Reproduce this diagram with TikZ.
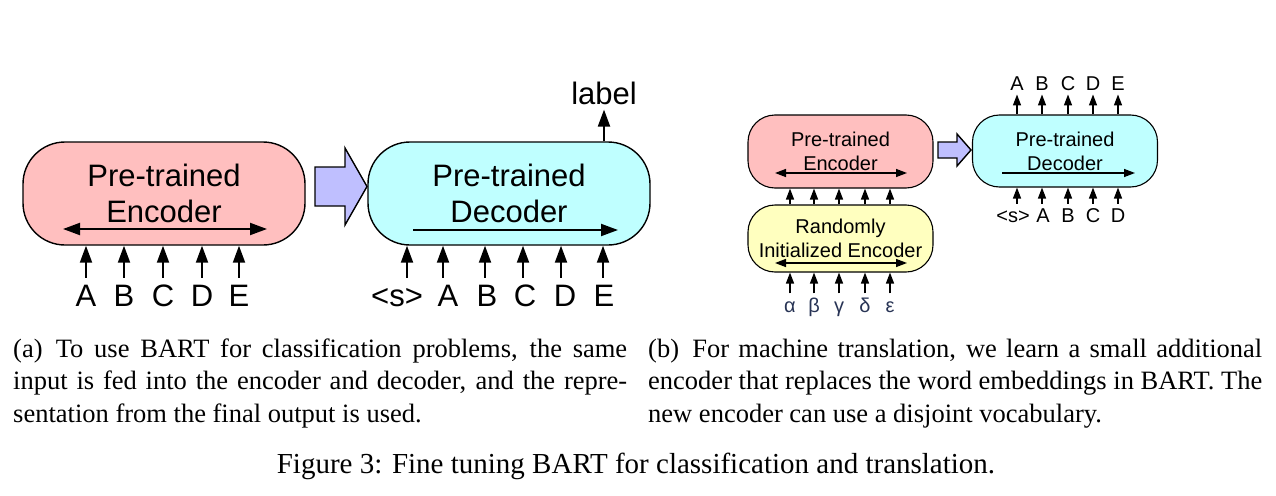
\documentclass[tikz,border=0pt]{standalone}
\usepackage{fontspec}
\setmainfont{Liberation Serif}
\newfontfamily\diagfont{Liberation Sans}
\usetikzlibrary{arrows.meta,calc}

\definecolor{encpink}{RGB}{255,191,191}
\definecolor{deccyan}{RGB}{191,255,255}
\definecolor{rndyellow}{RGB}{255,255,191}
\definecolor{flowlilac}{RGB}{191,191,255}
\definecolor{greekink}{RGB}{40,52,85}

\begin{document}
\begin{tikzpicture}[x=1pt,y=-1pt,
  bigbox/.style={draw=black, line width=1.4pt, rounded corners=42pt,
    minimum width=282pt, minimum height=103pt, align=center, inner sep=0pt,
    font=\diagfont\fontsize{31}{36}\selectfont},
  smallbox/.style={draw=black, line width=1.1pt, rounded corners=27pt,
    minimum width=185pt, align=center, inner sep=0pt,
    font=\diagfont\fontsize{20}{24}\selectfont},
  bigarr/.style={line width=2pt, -{Triangle[length=17pt,width=12pt]}},
  bigdbl/.style={line width=2pt,
    {Triangle[length=17pt,width=12pt]}-{Triangle[length=17pt,width=12pt]}},
  smallarr/.style={line width=1.4pt, -{Triangle[length=11pt,width=8pt]}},
  smalldbl/.style={line width=1.4pt,
    {Triangle[length=11pt,width=8pt]}-{Triangle[length=11pt,width=8pt]}},
  bigtok/.style={font=\diagfont\fontsize{31}{36}\selectfont, text height=22pt,
    text depth=0pt, inner xsep=0pt, inner ysep=6pt},
  smalltok/.style={font=\diagfont\fontsize{20}{24}\selectfont, text height=14.5pt,
    text depth=0pt, inner xsep=0pt, inner ysep=4pt},
  greektok/.style={font=\diagfont\fontsize{20}{24}\selectfont, text=greekink,
    anchor=base, text height=14.5pt, text depth=4pt, inner xsep=0pt, inner ysep=4pt},
  block/.style={draw=black, line width=1.4pt, fill=flowlilac, line join=miter},
  captext/.style={anchor=base west, text width=614pt, align=justify, inner sep=0pt,
    font=\fontsize{26.5}{32.5}\selectfont},
]
\useasboundingbox (0,0) rectangle (1276,495);

% ---------- (a) classification ----------
\node[bigbox, fill=encpink] (enc) at (164,193.5) {Pre-trained\\Encoder};
\node[bigbox, fill=deccyan] (dec) at (509,193.5) {Pre-trained\\Decoder};

\draw[block] (315,167) -- (345,167) -- (345,148) -- (367,186.5)
  -- (345,225) -- (345,206) -- (315,206) -- cycle;

\coordinate (encL) at (63,229);
\coordinate (encR) at (267,229);
\draw[bigdbl] (encL) -- (encR);
\coordinate (decL) at (413,230);
\coordinate (decR) at (618,230);
\draw[bigarr] (decL) -- (decR);

\foreach \x/\t/\n in {86/A/ea,124/B/eb,163/C/ec,202/D/ed,239/E/ee}{
  \node[bigtok] (\n) at (\x,295) {\t};
  \draw[bigarr] (\n.north) -- (\n.north |- enc.south);
}

\node[bigtok] (ds) at (397,295) {<s>};
\draw[bigarr] ([xshift=10pt]ds.north) -- ([xshift=10pt]ds.north |- dec.south);
\foreach \x/\t/\n/\s in {448/A/da/-5,487/B/db/-2,525/C/dc/-2,565/D/dd/-4,604/E/de/-1}{
  \node[bigtok] (\n) at (\x,295) {\t};
  \draw[bigarr] ([xshift=\s pt]\n.north) -- ([xshift=\s pt]\n.north |- dec.south);
}

\node[font=\diagfont\fontsize{31}{36}\selectfont, inner sep=0pt] (lab) at (604,93) {label};
\draw[bigarr] (lab.south |- dec.north) -- ([yshift=-5pt]lab.south);

% ---------- (b) translation ----------
\node[smallbox, fill=encpink, minimum height=73pt] (penc) at (840.5,151.5) {Pre-trained\\Encoder};
\node[smallbox, fill=rndyellow, minimum height=67pt] (rnd) at (840.5,238.5) {Randomly\\Initialized Encoder};
\node[smallbox, fill=deccyan, minimum height=72pt] (pdec) at (1065,151) {Pre-trained\\Decoder};

\draw[block] (938,142) -- (957,142) -- (957,134) -- (971,150)
  -- (957,166) -- (957,158) -- (938,158) -- cycle;

\coordinate (pencL) at (775,173);
\coordinate (pencR) at (907,173);
\draw[smalldbl] (pencL) -- (pencR);
\coordinate (rndL) at (775,263);
\coordinate (rndR) at (907,263);
\draw[smalldbl] (rndL) -- (rndR);
\coordinate (pdecL) at (1002,173);
\coordinate (pdecR) at (1135,173);
\draw[smallarr] (pdecL) -- (pdecR);

\foreach \x/\t/\n in {790/α/g1,814/β/g2,839/γ/g3,865/δ/g4,890/ε/g5}{
  \node[greektok] (\n) at (\x,312) {\t};
  \draw[smallarr] (\n.north) -- (\n.north |- rnd.south);
  \draw[smallarr] (\n.north |- rnd.north) -- (\n.north |- penc.south);
}

\foreach \x/\t/\n in {1017/A/o1,1042/B/o2,1068/C/o3,1093/D/o4,1118/E/o5}{
  \node[smalltok] (\n) at (\x,83) {\t};
  \draw[smallarr] (\n.south |- pdec.north) -- (\n.south);
}

\node[smalltok] (is) at (1013,215) {<s>};
\draw[smallarr] ([xshift=4pt]is.north) -- ([xshift=4pt]is.north |- pdec.south);
\foreach \x/\t/\n/\s in {1043/A/i1/-1,1068/B/i2/0,1093/C/i3/0,1118/D/i4/0}{
  \node[smalltok] (\n) at (\x,215) {\t};
  \draw[smallarr] ([xshift=\s pt]\n.north) -- ([xshift=\s pt]\n.north |- pdec.south);
}

% ---------- captions ----------
\node[captext] (capa) at (13,357) {(a)\enspace To use BART for classification problems, the same\linebreak
  input is fed into the encoder and decoder, and the repre-\linebreak
  sentation from the final output is used.};
\node[captext] (capb) at (648,357) {(b)\enspace For machine translation, we learn a small additional\linebreak
  encoder that replaces the word embeddings in BART. The\linebreak
  new encoder can use a disjoint vocabulary.};
\node[anchor=base, inner sep=0pt, font=\fontsize{29}{34}\selectfont] (fig) at (636,473)
  {Figure 3: Fine tuning BART for classification and translation.};
\end{tikzpicture}
\end{document}
